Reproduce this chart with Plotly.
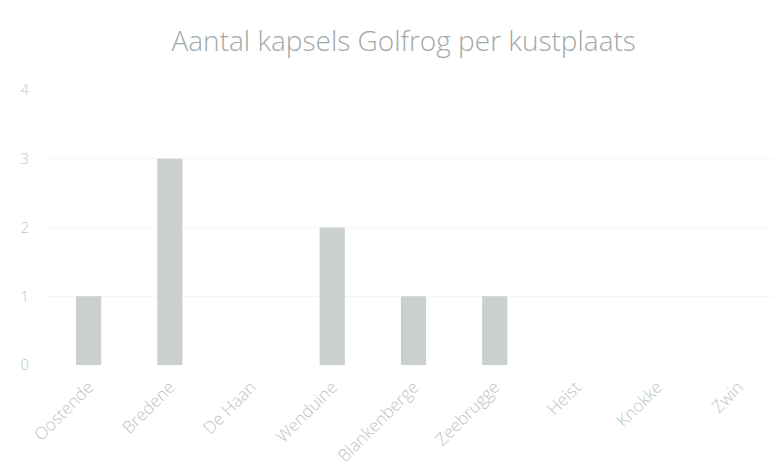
import plotly.graph_objects as go

categories = ["Oostende", "Bredene", "De Haan", "Wenduine", "Blankenberge",
              "Zeebrugge", "Heist", "Knokke", "Zwin"]
values = [1, 3, 0, 2, 1, 1, 0, 0, 0]
y_ticks = [0, 1, 2, 3, 4]

fig = go.Figure(go.Bar(x=categories, y=values, marker_color="#c9d0cd",
                       marker_line_width=0, width=0.31))

fig.update_layout(
    width=782, height=471,
    margin=dict(l=40, r=11, t=82, b=114),
    paper_bgcolor="white", plot_bgcolor="white",
    title=dict(text="Aantal kapsels Golfrog per kustplaats", x=0.506, xanchor="center",
               y=0.93, yanchor="middle",
               font=dict(family="Open Sans", size=28, color="#a3a9a7", weight=300)),
    font=dict(family="Open Sans", color="#b8bcba"),
    showlegend=False,
)
fig.update_xaxes(tickangle=-45, tickfont=dict(size=17, color="#c0c5c3", weight=300),
                 showline=False, showgrid=False, ticks="", automargin=False,
                 ticklabelstandoff=8)
fig.update_yaxes(range=[0, 4], tickvals=y_ticks,
                 tickfont=dict(size=15, color="#bfc4c2", weight=300),
                 showgrid=True, gridcolor="#f6f6f6", zeroline=False, showline=False,
                 ticklabelstandoff=18, automargin=False)

fig.write_html("out.html")
